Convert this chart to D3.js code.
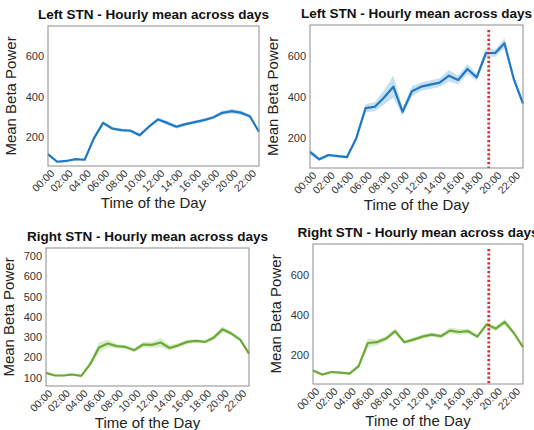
<!DOCTYPE html>
<html>
<head>
<meta charset="utf-8">
<script src="https://cdn.jsdelivr.net/npm/d3@7"></script>
<style>
  body { margin: 0; background: #fff; }
  svg { display: block; font-family: "Liberation Sans", Arial, sans-serif; }
</style>
</head>
<body>
<div id="chart"></div>
<script>
// ── Data ───────────────────────────────────────────────────────────────────────
const hours = d3.range(0, 24);
const tickHours = d3.range(0, 24, 2);

const leftMeanA  = [114, 76, 80, 89, 86, 192, 269, 241, 233, 230, 208, 250, 286, 269, 250, 263, 273, 283, 296, 319, 327, 320, 302, 225];
const leftErrA   = [8, 5, 5, 5, 5, 8, 10, 8, 8, 8, 10, 8, 8, 10, 10, 8, 8, 8, 8, 10, 12, 10, 8, 8];
const leftMeanB  = [129, 93, 114, 109, 104, 197, 345, 352, 398, 451, 327, 428, 451, 461, 471, 505, 484, 538, 497, 617, 617, 665, 489, 368];
const leftErrB   = [15, 8, 8, 6, 6, 12, 20, 22, 35, 55, 20, 25, 20, 22, 22, 28, 22, 25, 18, 20, 18, 25, 15, 12];
const rightMeanA = [123, 110, 110, 115, 108, 166, 248, 268, 255, 251, 235, 263, 261, 273, 246, 259, 276, 281, 276, 297, 338, 317, 287, 218];
const rightErrA  = [6, 5, 5, 5, 5, 10, 25, 18, 10, 8, 10, 12, 15, 22, 15, 12, 10, 8, 8, 10, 15, 10, 8, 8];
const rightMeanB = [120, 100, 113, 110, 105, 142, 258, 262, 280, 317, 262, 275, 290, 300, 292, 320, 313, 317, 290, 350, 330, 363, 308, 237];
const rightErrB  = [6, 5, 5, 5, 5, 10, 22, 15, 12, 12, 8, 10, 10, 12, 10, 15, 15, 12, 10, 15, 12, 15, 10, 8];

const panels = [
    { title: "Left STN - Hourly mean across days",  mean: leftMeanA,  err: leftErrA,  color: "#1f78c4", band: "#bcd9ef", box: [48, 26, 259, 166],  yDomain: [55, 750], yTicks: [200, 400, 600], marker: null },
    { title: "Left STN - Hourly mean across days",  mean: leftMeanB,  err: leftErrB,  color: "#1f78c4", band: "#bcd9ef", box: [310, 25, 523, 168], yDomain: [50, 755], yTicks: [200, 400, 600], marker: 19.3 },
    { title: "Right STN - Hourly mean across days", mean: rightMeanA, err: rightErrA, color: "#6aab35", band: "#d6e8c6", box: [46, 248, 249, 386], yDomain: [58, 740], yTicks: [100, 200, 300, 400, 500, 600, 700], marker: null },
    { title: "Right STN - Hourly mean across days", mean: rightMeanB, err: rightErrB, color: "#6aab35", band: "#d6e8c6", box: [313, 244, 523, 384], yDomain: [53, 753], yTicks: [200, 400, 600], marker: 19.25 }
];

const hourLabel = h => String(h).padStart(2, "0") + ":00";

// ── Draw ───────────────────────────────────────────────────────────────────────
const svg = d3.select("#chart").append("svg")
    .attr("width", 534)
    .attr("height", 430);

panels.forEach(p => {
    const [x0, y0, x1, y1] = p.box;
    const x = d3.scaleLinear().domain([0, 23]).range([x0, x1]);
    const y = d3.scaleLinear().domain(p.yDomain).range([y1, y0]);
    const g = svg.append("g");

    const rows = hours.map((h, i) => ({ h, m: p.mean[i], e: p.err[i] }));

    g.append("path")
        .datum(rows)
        .attr("fill", p.band)
        .attr("fill-opacity", 0.85)
        .attr("d", d3.area().x(d => x(d.h)).y0(d => y(d.m - d.e)).y1(d => y(d.m + d.e)));

    g.append("path")
        .datum(rows)
        .attr("fill", "none")
        .attr("stroke", p.color)
        .attr("stroke-width", 2.2)
        .attr("stroke-linejoin", "round")
        .attr("d", d3.line().x(d => x(d.h)).y(d => y(d.m)));

    if (p.marker !== null) {
        g.append("line")
            .attr("x1", x(p.marker)).attr("x2", x(p.marker))
            .attr("y1", y0 + 5).attr("y2", y1)
            .attr("stroke", "#e02a2a")
            .attr("stroke-width", 2.8)
            .attr("stroke-dasharray", "2.2,2.2");
    }

    g.append("rect")
        .attr("x", x0).attr("y", y0)
        .attr("width", x1 - x0).attr("height", y1 - y0)
        .attr("fill", "none")
        .attr("stroke", "#8c8c8c")
        .attr("stroke-width", 1);

    // y axis
    const yAxis = g.append("g")
        .attr("transform", `translate(${x0},0)`)
        .call(d3.axisLeft(y).tickValues(p.yTicks).tickSize(0).tickPadding(4));
    yAxis.select(".domain").remove();
    yAxis.selectAll("text")
        .attr("font-size", 11)
        .attr("fill", "#333")
        .attr("font-family", "Liberation Sans, Arial, sans-serif");

    // x axis
    const xAxis = g.append("g")
        .attr("transform", `translate(0,${y1})`)
        .call(d3.axisBottom(x).tickValues(tickHours).tickFormat(hourLabel).tickSize(0).tickPadding(4));
    xAxis.select(".domain").remove();
    xAxis.selectAll("text")
        .attr("font-size", 10.5)
        .attr("fill", "#333")
        .attr("font-family", "Liberation Sans, Arial, sans-serif")
        .attr("text-anchor", "end")
        .attr("dx", "-0.1em")
        .attr("dy", "0.6em")
        .attr("transform", "rotate(-45)");

    // titles
    g.append("text")
        .attr("x", (x0 + x1) / 2)
        .attr("y", y0 - 7)
        .attr("text-anchor", "middle")
        .attr("font-size", 13.5)
        .attr("font-weight", "bold")
        .attr("fill", "#111")
        .text(p.title);

    g.append("text")
        .attr("x", (x0 + x1) / 2)
        .attr("y", y1 + 42)
        .attr("text-anchor", "middle")
        .attr("font-size", 15)
        .attr("fill", "#222")
        .text("Time of the Day");

    g.append("text")
        .attr("transform", `translate(${x0 - 32},${(y0 + y1) / 2}) rotate(-90)`)
        .attr("text-anchor", "middle")
        .attr("font-size", 15)
        .attr("fill", "#222")
        .text("Mean Beta Power");
});
</script>
</body>
</html>
